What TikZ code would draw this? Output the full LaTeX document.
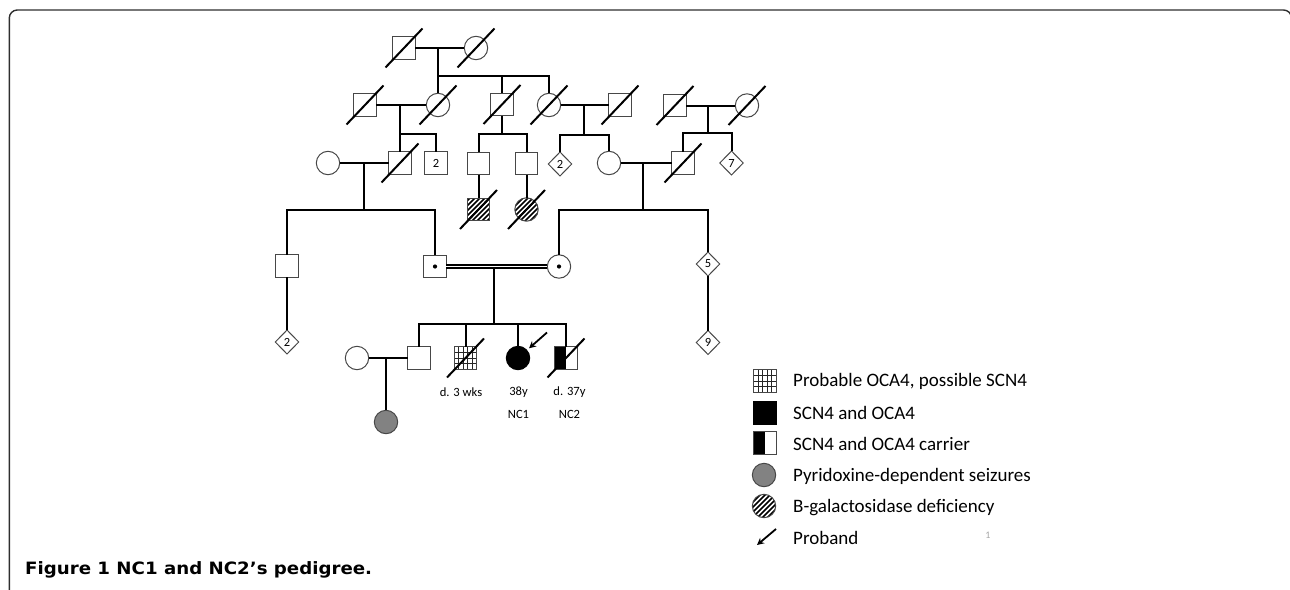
\documentclass[tikz,border=0pt]{standalone}
\usepackage{fontspec}
\setmainfont{Carlito}
\newfontfamily\capfont{DejaVu Sans}
\usetikzlibrary{shapes.geometric,arrows.meta}
\definecolor{symgray}{HTML}{474747}
\definecolor{fillgray}{HTML}{828282}
\definecolor{framegray}{HTML}{2E2E2E}
\begin{document}
\begin{tikzpicture}[x=1pt,y=-1pt,
  sym/.style={draw=symgray,line width=1pt,fill=white,inner sep=0pt,outer sep=0pt},
  male/.style={sym,rectangle,minimum size=22.6pt},
  female/.style={sym,circle,minimum size=23.4pt},
  unk/.style={sym,diamond,minimum width=23.4pt,minimum height=24pt,font=\fontsize{12.5}{12.5}\selectfont},
  numsq/.style={font=\fontsize{12.5}{12.5}\selectfont},
  pline/.style={line width=2pt,black},
  slashst/.style={line width=2pt,black},
  dblline/.style={draw=black,line width=1.6pt,double=white,double distance=1.8pt},
  hatched/.style={path picture={\foreach \k in {-30,-25,...,30}{\draw[black,line width=1.5pt] ([shift={(\k-16,16)}]path picture bounding box.center) -- ([shift={(\k+16,-16)}]path picture bounding box.center);}}},
  gridded/.style={path picture={\foreach \i in {-6.8,-2.3,2.3,6.8}{\draw[black!85,line width=0.7pt] ([shift={(\i,-13)}]path picture bounding box.center) -- ([shift={(\i,13)}]path picture bounding box.center);}\foreach \j in {-5.65,0,5.65}{\draw[black!85,line width=0.7pt] ([shift={(-13,\j)}]path picture bounding box.center) -- ([shift={(13,\j)}]path picture bounding box.center);}}},
  halfblack/.style={path picture={\fill[black] (path picture bounding box.south west) rectangle (path picture bounding box.north);}},
  carrier/.style={path picture={\fill[black] (path picture bounding box.center) circle (2.1pt);}},
  lab/.style={font=\fontsize{12.6}{12.6}\selectfont,inner sep=0pt},
  legtext/.style={font=\fontsize{19}{19}\selectfont,anchor=west,inner sep=0pt},
  arrowst/.style={line width=1.8pt,-{Stealth[length=7pt,width=7pt]}},
]
\useasboundingbox (0,0) rectangle (1290,589);
\begin{scope}
\clip (0,0) rectangle (1290,589);
\draw[framegray,line width=1.4pt,rounded corners=8pt] (9.3,620) -- (9.3,10) -- (1291.5,10) -- (1291.5,620);
\end{scope}
% Gen I
\node[male] (I1) at (404,48) {};
\node[female] (I2) at (476,48) {};
% Gen II
\node[male] (II1) at (365,105) {};
\node[female] (II2) at (438,105) {};
\node[male] (II3) at (502,104.5) {};
\node[female] (II4) at (549,105) {};
\node[male] (II5) at (620,105) {};
\node[male] (II6) at (675,105.5) {};
\node[female] (II7) at (747,105.5) {};
% Gen III
\node[female] (III1) at (328,163) {};
\node[male] (III2) at (400,163) {};
\node[male,numsq] (III3) at (436,163) {2};
\node[male] (III4) at (478.5,163.5) {};
\node[male] (III5) at (526.5,163.5) {};
\node[unk] (III6) at (560,164) {2};
\node[female] (III7) at (609,163) {};
\node[male] (III8) at (683,163) {};
\node[unk] (III9) at (731.5,163) {7};
% Gen IV
\node[male] (IV1) at (287,266) {};
\node[male,carrier] (IV2) at (435,266.5) {};
\node[male,hatched] (IV3) at (478.5,209.5) {};
\node[female,hatched] (IV4) at (526.5,209.5) {};
\node[female,carrier] (IV5) at (559,266.5) {};
\node[unk] (IV6) at (708,264) {5};
% Gen V
\node[unk] (V0) at (287,342) {2};
\node[female] (V1) at (357,358) {};
\node[male] (V2) at (419,358) {};
\node[male,gridded] (V3) at (465.5,358) {};
\node[female,fill=black,draw=black] (V4) at (518,358) {};
\node[male,halfblack] (V5) at (566,358) {};
\node[unk] (V6) at (708,342.5) {9};
% Gen VI
\node[female,fill=fillgray] (VI1) at (386,422) {};
% connectors
\coordinate (mI) at (438,48); \coordinate (sI) at (438,76);
\draw[pline] (I1.east) -- (I2.west);
\draw[pline] (mI) -- (II2.north);
\draw[pline] (sI) -| (II4.north);
\draw[pline] (sI -| II3) -- (II3.north);
\coordinate (mII1) at (400,105); \coordinate (sII1) at (400,134);
\draw[pline] (II1.east) -- (II2.west);
\draw[pline] (mII1) -- (III2.north);
\draw[pline] (sII1) -| (III3.north);
\coordinate (sII3) at (502,134);
\draw[pline] (II3.south) -- (sII3);
\draw[pline] (III4.north) |- (sII3) -| (III5.north);
\coordinate (mII4) at (584,105); \coordinate (sII4) at (584,134.5);
\draw[pline] (II4.east) -- (II5.west);
\draw[pline] (mII4) -- (sII4);
\draw[pline] (III6.north) |- (sII4) -| (III7.north);
\coordinate (mII6) at (707.5,105.5); \coordinate (sII6) at (707.5,133);
\draw[pline] (II6.east) -- (II7.west);
\draw[pline] (mII6) -- (sII6);
\draw[pline] (III8.north) |- (sII6) -| (III9.north);
\coordinate (mIII1) at (363.5,163); \coordinate (sIII1) at (363.5,209.5);
\draw[pline] (III1.east) -- (III2.west);
\draw[pline] (mIII1) -- (sIII1);
\draw[pline] (IV1.north) |- (sIII1) -| (IV2.north);
\draw[pline] (III4.south) -- (IV3.north);
\draw[pline] (III5.south) -- (IV4.north);
\coordinate (mIII7) at (643,163); \coordinate (sIII7) at (643,209.5);
\draw[pline] (III7.east) -- (III8.west);
\draw[pline] (mIII7) -- (sIII7);
\draw[pline] (IV5.north) |- (sIII7) -| (IV6.north);
\draw[dblline] (IV2.east) -- (IV5.west);
\coordinate (mIV) at (493.5,269.2); \coordinate (sIV) at (493.5,323.5);
\draw[pline] (mIV) -- (sIV);
\draw[pline] (V2.north) |- (sIV) -| (V5.north);
\draw[pline] (sIV -| V3) -- (V3.north);
\draw[pline] (sIV -| V4) -- (V4.north);
\coordinate (mV) at (386,358);
\draw[pline] (V1.east) -- (V2.west);
\draw[pline] (mV) -- (VI1.north);
\draw[pline] (IV1.south) -- (V0.north);
\draw[pline] (IV6.south) -- (V6.north);
% deceased slashes
\foreach \n in {I1,I2,II1,II2,II3,II4,II5,II6,II7,III2,III8,IV3,IV4,V3,V5}{
  \draw[slashst] ([shift={(-18.5,19.5)}]\n.center) -- ([shift={(18.5,-19.5)}]\n.center);
}
% proband arrow
\coordinate (pa) at (547,332.5);
\draw[arrowst,shorten >=3pt] (pa) -- (V4);
% labels
\node[lab] (lb1) at (461,392) {d. 3 wks};
\node[lab] (lb2) at (518.5,392) {38y};
\node[lab] (lb3) at (569.5,392) {d. 37y};
\node[lab] (lb4) at (518.5,414) {NC1};
\node[lab] (lb5) at (569.5,414) {NC2};
% legend
\node[male,gridded] (L1) at (765,381) {};
\node[male,fill=black,draw=black] (L2) at (765,413) {};
\node[male,halfblack] (L3) at (765,443) {};
\node[female,fill=fillgray] (L4) at (764,475) {};
\node[female,hatched] (L5) at (764,506) {};
\coordinate (la1) at (776,529); \coordinate (la2) at (757,545);
\draw[arrowst] (la1) -- (la2);
\node[legtext] (T1) at (793,381.5) {Probable OCA4, possible SCN4};
\node[legtext] (T2) at (793,413) {SCN4 and OCA4};
\node[legtext] (T3) at (793,443.5) {SCN4 and OCA4 carrier};
\node[legtext] (T4) at (793,476.5) {Pyridoxine-dependent seizures};
\node[legtext] (T5) at (793,507.5) {B-galactosidase deficiency};
\node[legtext] (T6) at (793,538) {Proband};
\node[font=\fontsize{10}{10}\selectfont,text=black!35,inner sep=0pt] (pg) at (988,535) {1};
% caption
\node[anchor=west,inner sep=0pt,font=\capfont\bfseries\fontsize{17}{17}\selectfont] (cap) at (25,570) {\scalebox{1.07}[1]{Figure 1 NC1 and NC2’s pedigree.}};
\end{tikzpicture}
\end{document}
